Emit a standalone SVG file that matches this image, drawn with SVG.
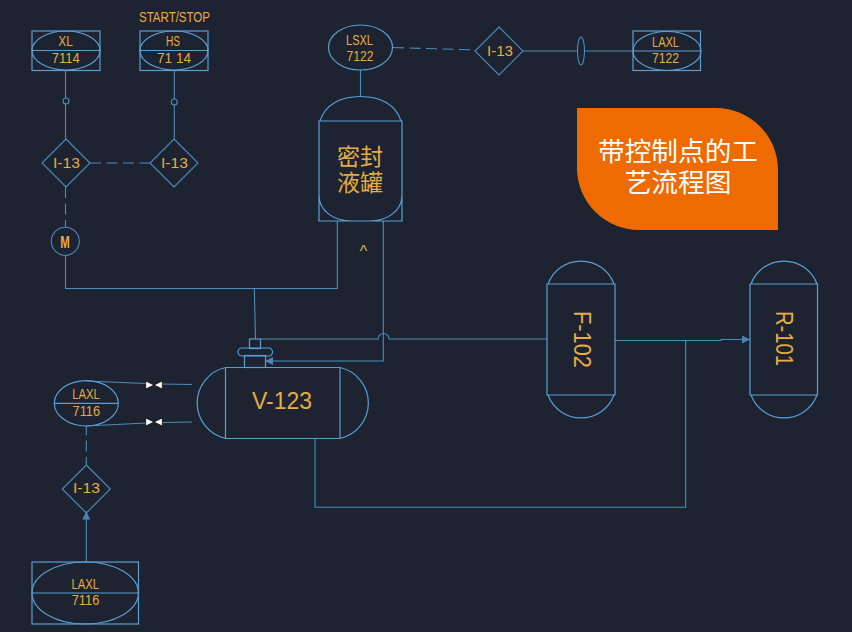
<svg xmlns="http://www.w3.org/2000/svg" width="852" height="632" viewBox="0 0 852 632">
<defs>
<marker id="arr" markerUnits="userSpaceOnUse" markerWidth="9" markerHeight="10" refX="8" refY="4.5" orient="auto"><path d="M0 .5L8 4.5L0 8.500z" fill="#4a85b5"/></marker>
</defs>
<style>
.l{fill:none;stroke:#5a9fd3;stroke-width:1.2}
.n{fill:none;stroke:#4b8dbf;stroke-width:1.1}
.d{stroke-dasharray:11 5.500}
.t{font-family:"Liberation Sans",Arial,sans-serif;fill:#e5ad42;text-anchor:middle}
.s{font-size:14px}
.v{font-size:23.500px}
.c{font-family:"Noto Sans CJK SC",sans-serif;text-anchor:middle}
.vb{fill:#fff;stroke:#000;stroke-width:.7}
</style>
<rect width="852" height="632" fill="#1d2330"/>
<g id="connectors" class="n">
<path d="M65.500 71V139M174.300 71V139"/>
<path d="M90 163H150" class="d"/>
<path d="M65.500 187V227" class="d"/>
<path d="M65.500 255V288.500H337.300V221"/>
<path d="M254.300 288.500L255.500 339"/>
<path d="M260.500 339H378A5.500 5.500 0 0 1 389 339H547"/>
<path d="M383.300 221V361H265" marker-end="url(#arr)"/>
<path d="M360.500 70V96.500"/>
<path d="M393 47.500L476 50" class="d"/>
<path d="M523 51H633"/>
<path d="M615 340.500H721V339.500H750" marker-end="url(#arr)"/>
<path d="M685.700 340.500V507.300H315V439"/>
<path d="M86 381L146 383.500M162 384L192 384.500M86 426L146 423M162 422.500L192 422"/>
<path d="M86.300 426V465" class="d" stroke-dashoffset="2"/>
<path d="M86.300 562V511.500" marker-end="url(#arr)"/>
<path class="vb" d="M145.700 381L154 385L145.700 389zM162.300 381L154 385L162.300 389z"/>
<path class="vb" d="M145.700 418L154 422L145.700 426zM162.300 418L154 422L162.300 426z"/>
<circle cx="66" cy="101" r="3" fill="#1d2330"/>
<circle cx="174.300" cy="102" r="3" fill="#1d2330"/>
<ellipse cx="581" cy="51" rx="3.500" ry="14" fill="#1d2330"/>
</g>
<g id="xl"><g class="l"><rect x="32" y="31" width="68" height="39.500"/><ellipse cx="66" cy="50.500" rx="34" ry="19.500"/><path d="M32 50.500H100"/></g><text class="t s" x="65.500" y="46" textLength="14.500" lengthAdjust="spacingAndGlyphs">XL</text><text class="t s" x="65.800" y="63" textLength="28" lengthAdjust="spacingAndGlyphs">7114</text></g>
<g id="hs"><text class="t s" x="174.500" y="22" textLength="71" lengthAdjust="spacingAndGlyphs">START/STOP</text><g class="l"><rect x="140" y="31" width="68" height="39.500"/><ellipse cx="174" cy="50.500" rx="34" ry="19.500"/><path d="M140 50.500H208"/></g><text class="t s" x="173" y="46" textLength="14" lengthAdjust="spacingAndGlyphs">HS</text><text class="t s" x="174" y="63" textLength="34" lengthAdjust="spacingAndGlyphs">71 14</text></g>
<g id="i1"><path class="n" d="M66 139L90 163L66 187L42 163z"/><text class="t s" x="66.500" y="168" textLength="27" lengthAdjust="spacingAndGlyphs">I-13</text></g>
<g id="i2"><path class="n" d="M174 139L198 163L174 187L150 163z"/><text class="t s" x="174.500" y="168" textLength="27" lengthAdjust="spacingAndGlyphs">I-13</text></g>
<g id="m"><circle class="n" cx="65.300" cy="241.300" r="14"/><text class="t" font-size="17" font-weight="bold" x="65" y="247.500" textLength="9.500" lengthAdjust="spacingAndGlyphs">M</text></g>
<g id="lsxl"><ellipse class="l" cx="360.500" cy="47.500" rx="32" ry="22.500"/><text class="t s" x="359.500" y="44.500" textLength="27" lengthAdjust="spacingAndGlyphs">LSXL</text><text class="t s" x="360" y="60.500" textLength="27" lengthAdjust="spacingAndGlyphs">7122</text></g>
<g id="i3"><path class="n" d="M499 27L523 51L499 75L475 51z"/><text class="t s" x="500" y="55.500" textLength="26" lengthAdjust="spacingAndGlyphs">I-13</text></g>
<g id="laxl2"><g class="l"><rect x="633" y="31" width="67.500" height="39.500"/><ellipse cx="667" cy="51" rx="34" ry="19.500"/><path d="M633 51H700.500"/></g><text class="t s" x="665.500" y="47" textLength="27" lengthAdjust="spacingAndGlyphs">LAXL</text><text class="t s" x="665.500" y="63" textLength="27" lengthAdjust="spacingAndGlyphs">7122</text></g>
<g id="tank"><path class="l" d="M319 221H402V121H319ZM319 195C319 212 335 221 352 221H369C386 221 402 212 402 195M320 121C325 105 340 96.500 360.500 96.500C381 96.500 396 105 401 121"/><text class="c" font-size="23" fill="#e5ad42" x="360" y="165">密封</text><text class="c" font-size="23" fill="#e5ad42" x="360" y="191">液罐</text></g>
<text class="t" font-size="16" x="363.500" y="257">^</text>
<g id="v123"><g class="l"><path d="M225.500 367.500H340V438.500H225.500ZM225.500 367.500A36.400 36.400 0 0 0 225.500 438.500M340 367.500A36.400 36.400 0 0 1 340 438.500"/><rect x="244.500" y="355.500" width="21" height="12"/><rect x="238" y="348" width="34.500" height="8" rx="4"/><rect x="249.500" y="339" width="11" height="9.500"/></g><text class="t v" x="282" y="409" textLength="60" lengthAdjust="spacingAndGlyphs">V-123</text></g>
<g id="f102"><path class="l" d="M547 284H615V395H547ZM548 284A35.200 35.200 0 0 1 614 284M548 395A35.200 35.200 0 0 0 614 395"/><text class="t v" transform="translate(574 339.500) rotate(90)" textLength="57" lengthAdjust="spacingAndGlyphs">F-102</text></g>
<g id="r101"><path class="l" d="M750 284H817.500V395H750ZM751 284A35.200 35.200 0 0 1 817 284M751 395A35.200 35.200 0 0 0 817 395"/><text class="t v" transform="translate(776 338.500) rotate(90)" textLength="55" lengthAdjust="spacingAndGlyphs">R-101</text></g>
<g id="laxl1"><g class="l"><ellipse cx="86.300" cy="403.300" rx="32" ry="22.700"/><path d="M54.300 403.300H118.300"/></g><text class="t s" x="86" y="399" textLength="27.500" lengthAdjust="spacingAndGlyphs">LAXL</text><text class="t s" x="86.300" y="416" textLength="27.500" lengthAdjust="spacingAndGlyphs">7116</text></g>
<g id="i4"><path class="n" d="M86.300 465L110.300 489L86.300 513L62.300 489z"/><text class="t s" x="86.500" y="493" textLength="27" lengthAdjust="spacingAndGlyphs">I-13</text></g>
<g id="laxl3"><g class="l"><rect x="32" y="562" width="106.500" height="62"/><ellipse cx="85.200" cy="593" rx="53.200" ry="31"/><path d="M32 593H138.500"/></g><text class="t s" x="85.300" y="588.500" textLength="27.500" lengthAdjust="spacingAndGlyphs">LAXL</text><text class="t s" x="85.500" y="605" textLength="27.500" lengthAdjust="spacingAndGlyphs">7116</text></g>
<g id="title"><path d="M577 108H716A62 62 0 0 1 778 170V230H639A62 62 0 0 1 577 168Z" fill="#ed6b00"/><text class="c" font-size="26.670" fill="#fff" x="678" y="161">带控制点的工</text><text class="c" font-size="26.670" fill="#fff" x="678" y="192">艺流程图</text></g>
</svg>
